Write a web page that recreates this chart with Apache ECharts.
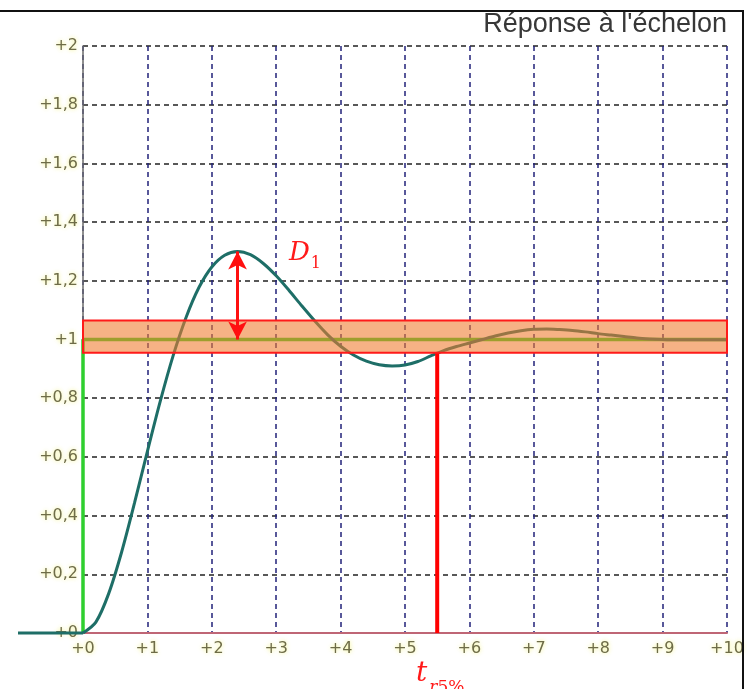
<!DOCTYPE html>
<html>
<head>
<meta charset="utf-8">
<script src="https://cdn.jsdelivr.net/npm/echarts@6/dist/echarts.min.js"></script>
<style>
html,body{margin:0;padding:0;background:#fff;}
#chart{width:750px;height:689px;}
</style>
</head>
<body>
<div id="chart"></div>
<script>
// ---- data ----
const titleText = "Réponse à l'échelon";
const preTime = [-1, 0];
const preResponse = [0, 0];
const timeS = [0, 0.2, 0.4, 0.6, 0.8, 1.0, 1.2, 1.4, 1.6, 1.8, 2.0, 2.2, 2.4, 2.6, 2.8, 3.0,
  3.2, 3.4, 3.6, 3.8, 4.0, 4.2, 4.4, 4.6, 4.8, 5.0, 5.2, 5.4, 5.6, 5.8, 6.0, 6.2, 6.4, 6.6, 6.8,
  7.0, 7.2, 7.4, 7.6, 7.8, 8.0, 8.2, 8.4, 8.6, 8.8, 9.0, 9.2, 9.4, 9.6, 9.8, 10.0];
const response = [0, 0.037, 0.135, 0.276, 0.443, 0.619, 0.790, 0.945, 1.075, 1.177, 1.247, 1.287, 1.300, 1.289, 1.259, 1.217,
  1.167, 1.114, 1.063, 1.016, 0.977, 0.947, 0.926, 0.914, 0.910, 0.913, 0.925, 0.944, 0.962, 0.976, 0.988, 1.000, 1.012, 1.022, 1.030,
  1.035, 1.036, 1.034, 1.031, 1.026, 1.020, 1.015, 1.010, 1.005, 1.002, 1.000, 0.999, 0.999, 0.999, 0.999, 0.999];
const stepX = [0, 0, 10];
const stepY = [0, 1, 1];
const bandTop = 1.065;
const bandBottom = 0.955;
const bandStart = 0;
const bandEnd = 10;
const peakT = 2.4;
const peakY = 1.3;
const finalValue = 1.0;
const settleT = 5.5;
const settleY = 0.955;
const xTicks = [0, 10, 1];      // min, max, interval
const yTicks = [0, 2, 0.2];     // min, max, interval

const fmt = v => '+' + String(Number(v.toFixed(1))).replace('.', ',');
const labelStyle = {
  color: '#6e6c48', fontFamily: 'DejaVu Sans', fontSize: 16,
  textShadowColor: 'rgba(240,240,110,0.9)', textShadowBlur: 4
};
const red = '#ff1a1a';

const chart = echarts.init(document.getElementById('chart'), null, {renderer: 'canvas'});
chart.setOption({
  backgroundColor: '#ffffff',
  animation: false,
  grid: [
    {left: 83, right: 23, top: 46, bottom: 56, containLabel: false},
    {left: 18, width: 65, top: 46, bottom: 56, containLabel: false}
  ],
  xAxis: [{
    type: 'value', min: xTicks[0], max: xTicks[1], interval: xTicks[2],
    axisLine: {show: true, onZero: false, lineStyle: {color: '#bf6675', width: 2}},
    axisTick: {show: false},
    axisLabel: Object.assign({formatter: fmt, margin: 8}, labelStyle),
    splitLine: {show: true, lineStyle: {color: '#22227a', type: [5, 4], width: 1.5}}
  }, {
    gridIndex: 1, type: 'value', min: preTime[0], max: preTime[1], show: false
  }],
  yAxis: [{
    type: 'value', min: yTicks[0], max: yTicks[1], interval: yTicks[2],
    axisLine: {show: true, onZero: false, lineStyle: {color: '#6a6a6a', width: 1.5}},
    axisTick: {show: false},
    axisLabel: Object.assign({formatter: fmt, margin: 5}, labelStyle),
    splitLine: {show: true, lineStyle: {color: '#222222', type: [5, 4], width: 1.5}}
  }, {
    gridIndex: 1, type: 'value', min: yTicks[0], max: yTicks[1], show: false
  }],
  series: [
    {
      name: 'consigne', type: 'line', z: 2, symbol: 'none', clip: false,
      data: stepX.map((x, i) => [x, stepY[i]]),
      lineStyle: {color: '#2fcf2f', width: 3.5}
    },
    {
      name: 'réponse', type: 'line', z: 3, symbol: 'none', clip: false, smooth: 0.3,
      data: timeS.map((t, i) => [t, response[i]]),
      lineStyle: {color: '#1e6e67', width: 3}
    },
    {
      name: 'réponse t<0', type: 'line', z: 3, symbol: 'none', clip: false,
      xAxisIndex: 1, yAxisIndex: 1,
      data: preTime.map((t, i) => [t, preResponse[i]]),
      lineStyle: {color: '#1e6e67', width: 3}
    },
    {
      name: 'tr5', type: 'line', z: 4, symbol: 'none',
      data: [[settleT, 0], [settleT, settleY]],
      lineStyle: {color: '#ff0000', width: 4}
    },
    {
      name: 'bande', type: 'line', z: 10, symbol: 'none', data: [],
      markArea: {
        z: 10, silent: true,
        itemStyle: {color: 'rgba(240,122,44,0.58)', borderColor: red, borderWidth: 2},
        data: [[{coord: [bandStart, bandTop]}, {coord: [bandEnd, bandBottom]}]]
      },
      markLine: {
        z: 11, silent: true, symbol: ['arrow', 'arrow'], symbolSize: [14, 18],
        label: {show: false},
        lineStyle: {color: '#ff1010', width: 3, type: 'solid'},
        data: [[{coord: [peakT, peakY]}, {coord: [peakT, finalValue]}]]
      }
    }
  ],
  graphic: [
    {type: 'line', shape: {x1: 0, y1: 11, x2: 744, y2: 11}, style: {stroke: '#111', lineWidth: 2}, z: 100},
    {type: 'line', shape: {x1: 743, y1: 11, x2: 743, y2: 689}, style: {stroke: '#111', lineWidth: 2}, z: 100},
    {type: 'text', right: 23, top: 11, z: 100,
      style: {text: titleText, font: '27px "Liberation Sans", Arial, sans-serif', fill: '#383838'}},
    {type: 'text', left: 289, top: 240, z: 100,
      style: {
        text: '{i|D}{s|1}',
        rich: {
          i: {fontFamily: 'DejaVu Serif', fontStyle: 'italic', fontSize: 26, fill: red, lineHeight: 30, verticalAlign: 'bottom'},
          s: {fontFamily: 'DejaVu Serif', fontSize: 16, fill: red, lineHeight: 30, verticalAlign: 'bottom', padding: [0, 0, -6, 1]}
        }
      }},
    {type: 'text', left: 416, top: 660, z: 100,
      style: {
        text: '{i|t}{si|r}{s|5%}',
        rich: {
          i: {fontFamily: 'DejaVu Serif', fontStyle: 'italic', fontSize: 28, fill: red, lineHeight: 32, verticalAlign: 'bottom'},
          si: {fontFamily: 'DejaVu Serif', fontStyle: 'italic', fontSize: 17, fill: red, lineHeight: 32, verticalAlign: 'bottom', padding: [0, 0, -8, 2]},
          s: {fontFamily: 'DejaVu Serif', fontSize: 17, fill: red, lineHeight: 32, verticalAlign: 'bottom', padding: [0, 0, -8, 0]}
        }
      }}
  ]
});
</script>
</body>
</html>
